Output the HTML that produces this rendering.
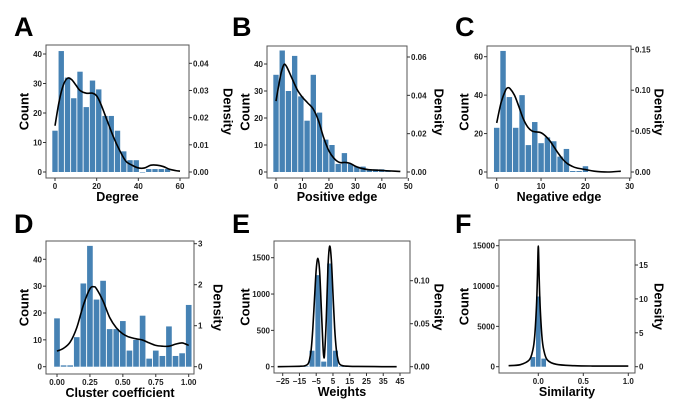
<!DOCTYPE html>
<html><head><meta charset="utf-8"><style>
html,body{margin:0;padding:0;background:#fff;}
svg{display:block;font-family:"Liberation Sans",Arial,sans-serif;}
</style></head><body>
<svg id="fig" width="689" height="420" viewBox="0 0 689 420"></svg>
<script>
// ---- data ----
const aBinCenters=[0,3,6,9,12,15,18,21,24,27,30,33,36,39,42,45,48,51,54];
const aCounts=[14,41,32,25,34,22,31,28,19,19,14,7,4,4,0,1,1,1,1];
const aDensX=[0,2,4,6,8,10,12,15,18,20,22,25,28,31,34,37,40,43,46,49,52,55,58,60];
const aDensY=[0.017,0.026,0.032,0.0345,0.034,0.032,0.030,0.029,0.029,0.028,0.025,0.019,0.013,0.008,0.004,0.0025,0.0015,0.0015,0.0025,0.0025,0.002,0.001,0.0005,0.0003];
const bBinCenters=[0,2.35,4.7,7.05,9.4,11.75,14.1,16.45,18.8,21.15,23.5,25.85,28.2,30.55,32.9,35.25,37.6,39.95,42.3];
const bCounts=[36,45,30,43,28,19,36,22,12,10,3,7,3,2,2,1,1,1,0.5];
const bDensX=[0,1,2,3,4,6,8,10,12,14,16,18,20,22,24,26,28,30,32,35,40,45,47];
const bDensY=[0.037,0.045,0.052,0.056,0.055,0.049,0.043,0.039,0.036,0.033,0.027,0.018,0.011,0.007,0.005,0.005,0.0045,0.003,0.002,0.0012,0.0008,0.0004,0.0003];
const cBinCenters=[0,1.43,2.86,4.29,5.72,7.15,8.58,10.01,11.44,12.87,14.3,15.73,17.16,18.59,20.02];
const cCounts=[23,63,39,23,40,14,26,15,18,16,8,12,0.5,0.5,3];
const cDensX=[0,1,2,2.5,3,4,5,6,7,8,9,10,11,12,13,14,15,16,17,18,20,22,25,28];
const cDensY=[0.06,0.085,0.1,0.103,0.102,0.094,0.08,0.065,0.055,0.05,0.049,0.048,0.044,0.038,0.03,0.022,0.015,0.01,0.007,0.005,0.003,0.001,0,0.001];
const dBinCenters=[0,0.05,0.1,0.15,0.2,0.25,0.3,0.35,0.4,0.45,0.5,0.55,0.6,0.65,0.7,0.75,0.8,0.85,0.9,0.95,1.0];
const dCounts=[18,0.5,0.5,11,31,45,25,32,14,14,17,6,10,19,3,6,4,15,4,5,23];
const dDensX=[0,0.05,0.1,0.15,0.2,0.25,0.28,0.3,0.35,0.4,0.45,0.5,0.55,0.6,0.65,0.7,0.75,0.8,0.85,0.9,0.95,1.0];
const dDensY=[0.38,0.45,0.6,0.95,1.5,1.9,1.95,1.9,1.6,1.2,0.95,0.8,0.72,0.68,0.65,0.58,0.52,0.5,0.5,0.55,0.58,0.52];
const eBinCenters=[-11,-7.5,-4,-0.5,3,6.5,10];
const eCounts=[5,220,1260,70,1420,220,5];
const eDensX=[-28,-15,-12,-10,-9,-8,-7,-6,-5,-4,-3,-2,-1,-0.5,0,1,2,3,4,5,6,7,8,9,11,15,20,30,43];
const eDensY=[0,0.0005,0.001,0.003,0.008,0.02,0.045,0.08,0.113,0.126,0.112,0.07,0.025,0.012,0.015,0.055,0.115,0.14,0.125,0.085,0.045,0.02,0.008,0.003,0.001,0.0005,0.0003,0.0001,0];
const fBinCenters=[-0.06,0,0.06];
const fCounts=[1200,8700,1000];
const fDensX=[-0.33,-0.2,-0.1,-0.06,-0.04,-0.02,-0.01,0,0.01,0.02,0.04,0.06,0.1,0.2,0.4,0.6,1.0];
const fDensY=[0.15,0.3,1.0,2.5,4.5,9,13,17.8,13,9,4.5,2.5,1.0,0.35,0.15,0.1,0.1];

// tick labels
const aXTicks=[0,20,40,60], aYTicks=[0,10,20,30,40], aRTicks=[0,0.01,0.02,0.03,0.04];
const bXTicks=[0,10,20,30,40,50], bYTicks=[0,10,20,30,40], bRTicks=[0,0.02,0.04,0.06];
const cXTicks=[0,10,20,30], cYTicks=[0,20,40,60], cRTicks=[0,0.05,0.10,0.15];
const dXTicks=[0,0.25,0.5,0.75,1], dYTicks=[0,10,20,30,40], dRTicks=[0,1,2,3];
const eXTicks=[-25,-15,-5,5,15,25,35,45], eYTicks=[0,500,1000,1500], eRTicks=[0,0.05,0.10];
const fXTicks=[0,0.5,1.0], fYTicks=[0,5000,10000,15000], fRTicks=[0,5,10,15];

// ---- layout (not data) ----
const panels=[
 {id:'a',letter:'A',lx:14,ly:36,box:[46,45,189,178],x:[0,55,60,180],yl:[0,172,40,54],yr:[0,172,0.04,63.3],bw:3,centers:aBinCenters,counts:aCounts,dx:aDensX,dy:aDensY,xt:aXTicks,yt:aYTicks,rt:aRTicks,xd:0,rd:2,xlab:'Degree',cx:25,dxp:227},
 {id:'b',letter:'B',lx:232,ly:36,box:[267,46,407,178],x:[0,276,50,408.3],yl:[0,172,40,64],yr:[0,172,0.06,57],bw:2.35,centers:bBinCenters,counts:bCounts,dx:bDensX,dy:bDensY,xt:bXTicks,yt:bYTicks,rt:bRTicks,xd:0,rd:2,xlab:'Positive edge',cx:246,dxp:438},
 {id:'c',letter:'C',lx:455,ly:36,box:[487,46,631,178],x:[0,496.7,30,629.7],yl:[0,172,60,56.7],yr:[0,172,0.15,49.3],bw:1.43,centers:cBinCenters,counts:cCounts,dx:cDensX,dy:cDensY,xt:cXTicks,yt:cYTicks,rt:cRTicks,xd:0,rd:2,xlab:'Negative edge',cx:465,dxp:658},
 {id:'d',letter:'D',lx:14,ly:233,box:[46,241,194,374],x:[0,57,1,188.7],yl:[0,366.7,40,259.3],yr:[0,366.7,3,243.7],bw:0.05,centers:dBinCenters,counts:dCounts,dx:dDensX,dy:dDensY,xt:dXTicks,yt:dYTicks,rt:dRTicks,xd:2,rd:0,xlab:'Cluster coefficient',cx:25,dxp:217},
 {id:'e',letter:'E',lx:232,ly:233,box:[274,241,410,373],x:[-25,282.7,45,400],yl:[0,366.7,1500,257.7],yr:[0,366.7,0.1,280.7],bw:3.5,centers:eBinCenters,counts:eCounts,dx:eDensX,dy:eDensY,xt:eXTicks,yt:eYTicks,rt:eRTicks,xd:0,rd:2,xlab:'Weights',cx:246,dxp:438},
 {id:'f',letter:'F',lx:455,ly:233,box:[499,240,635,373],x:[0,538.3,1,628.3],yl:[0,366.7,15000,245.7],yr:[0,366.7,15,265],bw:0.06,centers:fBinCenters,counts:fCounts,dx:fDensX,dy:fDensY,xt:fXTicks,yt:fYTicks,rt:fRTicks,xd:1,rd:0,xlab:'Similarity',cx:465,dxp:658}
];
const NS='http://www.w3.org/2000/svg';
const svg=document.getElementById('fig');
function mk(tag,attrs,parent,text){const e=document.createElementNS(NS,tag);for(const k in attrs)e.setAttribute(k,attrs[k]);if(text!==undefined)e.textContent=text;(parent||svg).appendChild(e);return e;}
function lin(m){return v=>m[1]+(v-m[0])*(m[3]-m[1])/(m[2]-m[0]);}
function fmt(v,d){let s=v.toFixed(d);return s.replace('-','\u2212');}
function spline(pts){let d='M'+pts[0][0].toFixed(2)+','+pts[0][1].toFixed(2);
 for(let i=0;i<pts.length-1;i++){const p0=pts[i-1]||pts[i],p1=pts[i],p2=pts[i+1],p3=pts[i+2]||p2;
  const c1=[p1[0]+(p2[0]-p0[0])/6,p1[1]+(p2[1]-p0[1])/6],c2=[p2[0]-(p3[0]-p1[0])/6,p2[1]-(p3[1]-p1[1])/6];
  d+='C'+c1[0].toFixed(2)+','+c1[1].toFixed(2)+' '+c2[0].toFixed(2)+','+c2[1].toFixed(2)+' '+p2[0].toFixed(2)+','+p2[1].toFixed(2);}
 return d;}
panels.forEach(p=>{
 const g=mk('g',{});
 
 
 const X=lin(p.x),YL=lin(p.yl),YR=lin(p.yr);
 const [x0,y0,x1,y1]=p.box;
 const lt=mk('text',{x:p.lx,y:p.ly,'font-size':27,'font-weight':'bold'},g,p.letter);
 
 
 // bars
 const pxw=Math.abs(X(p.bw)-X(0));
 p.centers.forEach((c,i)=>{
  const h=YL(0)-YL(p.counts[i]);
  const r=mk('rect',{x:X(c)-pxw*0.43,y:YL(p.counts[i]),width:pxw*0.86,height:Math.max(h,0.5),fill:'#4682b4'},g);
  
  
 });
 // density
 const pts=p.dx.map((v,i)=>[X(v),YR(p.dy[i])]);
 const ln=mk('path',{d:spline(pts),fill:'none',stroke:'#000','stroke-width':1.6},g);
 
 
 // frame
 const fr=mk('rect',{x:x0,y:y0,width:x1-x0,height:y1-y0,fill:'none',stroke:'#555','stroke-width':1},g);
 
 
 // x ticks
 p.xt.forEach(v=>{const xx=X(v);
  mk('line',{x1:xx,x2:xx,y1:y1,y2:y1+3,stroke:'#333'},g);
  const t=mk('text',{x:xx,y:y1+11,'font-size':8,'font-weight':'bold','text-anchor':'middle',fill:'#222'},g,fmt(v,p.xd));
  
  });
 p.yt.forEach(v=>{const yy=YL(v);
  mk('line',{x1:x0-3,x2:x0,y1:yy,y2:yy,stroke:'#333'},g);
  const t=mk('text',{x:x0-4,y:yy+3,'font-size':8,'font-weight':'bold','text-anchor':'end',fill:'#222'},g,String(v));
  
  });
 p.rt.forEach(v=>{const yy=YR(v);
  mk('line',{x1:x1,x2:x1+3,y1:yy,y2:yy,stroke:'#333'},g);
  const t=mk('text',{x:x1+4,y:yy+3,'font-size':8,'font-weight':'bold',fill:'#222'},g,v.toFixed(p.rd));
  
  });
 const xl=mk('text',{x:(x0+x1)/2,y:y1+23,'font-size':12.5,'font-weight':'bold','text-anchor':'middle'},g,p.xlab);
 
 
 const cy=(y0+y1)/2;
 const yl=mk('text',{x:p.cx,y:cy,'font-size':13,'font-weight':'bold','text-anchor':'middle',transform:'rotate(-90 '+(p.cx)+' '+cy+')','dominant-baseline':'middle'},g,'Count');
 
 
 const dl=mk('text',{x:p.dxp,y:cy,'font-size':13,'font-weight':'bold','text-anchor':'middle',transform:'rotate(90 '+p.dxp+' '+cy+')','dominant-baseline':'middle'},g,'Density');
 
 
});
</script>
</body></html>
